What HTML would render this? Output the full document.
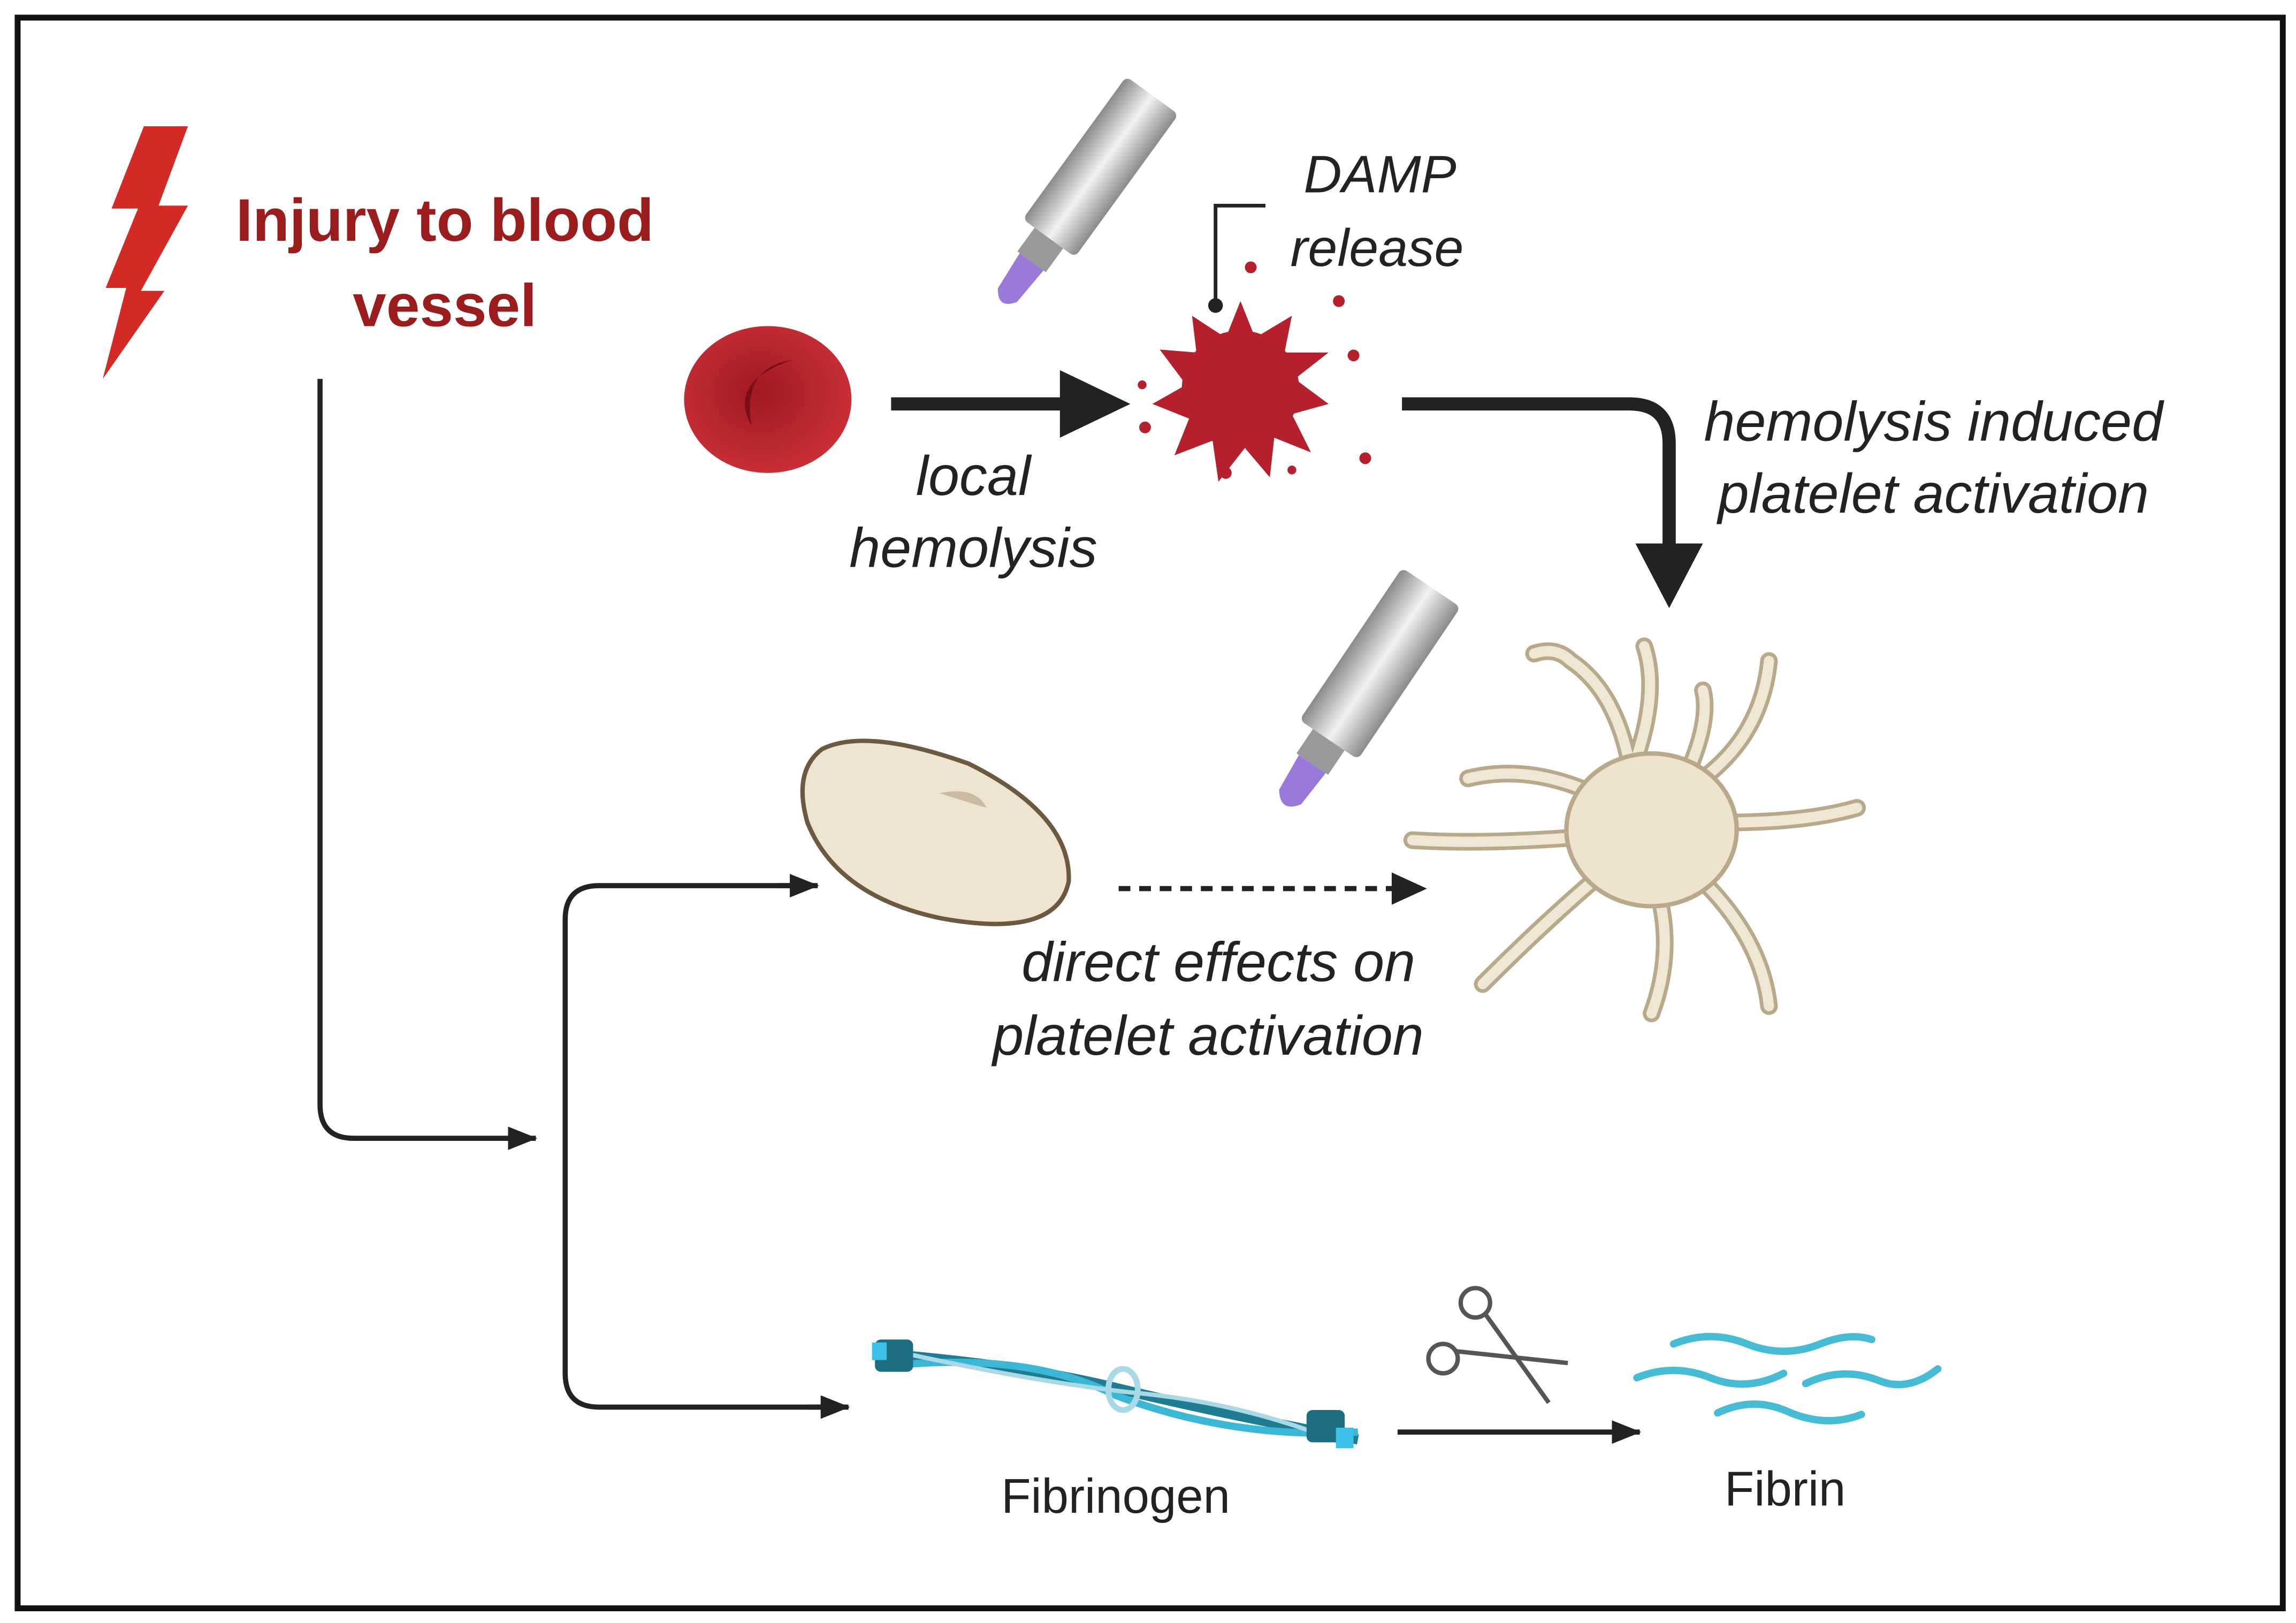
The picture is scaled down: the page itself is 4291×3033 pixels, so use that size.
<!DOCTYPE html>
<html><head><meta charset="utf-8"><style>
html,body{margin:0;padding:0;background:#fff;}
svg{display:block;}
text{font-family:"Liberation Sans",sans-serif;}
</style></head><body>
<svg width="4291" height="3033" viewBox="0 0 1564 1105" preserveAspectRatio="none" xmlns="http://www.w3.org/2000/svg">
<defs>
<marker id="ah" markerWidth="20" markerHeight="16" refX="19" refY="8" orient="auto" markerUnits="userSpaceOnUse"><path d="M0,0 L20,8 L0,16 Z" fill="#222"/></marker>
<linearGradient id="pen" x1="0" y1="0" x2="1" y2="0"><stop offset="0" stop-color="#8a8a8a"/><stop offset="0.5" stop-color="#f2f2f2"/><stop offset="1" stop-color="#8a8a8a"/></linearGradient>
<radialGradient id="rbc" cx="0.45" cy="0.45" r="0.6"><stop offset="0" stop-color="#a01822"/><stop offset="1" stop-color="#cc3036"/></radialGradient>
</defs>
<rect x="12" y="12" width="1543" height="1083" fill="#fff" stroke="#111" stroke-width="4"/>
<!-- lightning -->
<path d="M98,86 L128,86 L108,140 L128,140 L96,198 L112,198 L70,258 L86,196 L72,196 L94,142 L76,142 Z" fill="#d42a25"/>
<text x="303" y="164" font-size="41" font-weight="bold" fill="#9b1c1c" text-anchor="middle">Injury to blood</text>
<text x="303" y="222" font-size="41" font-weight="bold" fill="#9b1c1c" text-anchor="middle">vessel</text>
<!-- left connectors -->
<path d="M218,258 L218,752 Q218,775 241,775 L365,775" fill="none" stroke="#222" stroke-width="3.5" marker-end="url(#ah)"/>
<path d="M555,603 L408,603 Q385,603 385,626 L385,935 Q385,958 408,958 L576,958" fill="none" stroke="#222" stroke-width="3.5"/>
<path d="M530,603 L557,603" stroke="#222" stroke-width="3.5" marker-end="url(#ah)"/>
<path d="M550,958 L578,958" stroke="#222" stroke-width="3.5" marker-end="url(#ah)"/>
<!-- RBC -->
<ellipse cx="523" cy="272" rx="57" ry="50" fill="url(#rbc)"/>
<path d="M540,245 Q505,250 512,290 Q495,260 540,245 Z" fill="#7a0f18"/>
<!-- thick arrow 1 -->
<path d="M607,275 L725,275" stroke="#222" stroke-width="9"/>
<polygon points="722,252 770,275 722,298" fill="#222"/>
<text x="663" y="337" font-size="38" font-style="italic" fill="#222" text-anchor="middle">local</text>
<text x="663" y="386" font-size="38" font-style="italic" fill="#222" text-anchor="middle">hemolysis</text>
<!-- pen 1 -->
<g transform="translate(785,65) rotate(36)">
<rect x="-22" y="0" width="44" height="120" rx="4" fill="url(#pen)"/>
<rect x="-12" y="120" width="24" height="20" fill="#999"/>
<path d="M-10,140 L10,140 L8,168 Q0,180 -8,168 Z" fill="#9a7ad8"/>
</g>
<!-- spiky cell -->
<g fill="#b5202c">
<circle cx="845" cy="265" r="40"/>
<polygon points="845,205 855,230 880,215 875,240 905,240 882,258 905,275 880,282 893,308 868,298 865,325 848,305 830,328 826,300 800,310 810,285 785,275 808,262 790,238 815,240 812,215 835,230"/>
<circle cx="852" cy="182" r="4"/><circle cx="912" cy="205" r="4"/><circle cx="922" cy="242" r="4"/><circle cx="930" cy="312" r="4"/><circle cx="780" cy="291" r="4"/><circle cx="778" cy="262" r="3"/><circle cx="835" cy="322" r="4"/><circle cx="880" cy="320" r="3"/>
</g>
<path d="M828,208 L828,140 L862,140" fill="none" stroke="#222" stroke-width="2.5"/>
<circle cx="828" cy="208" r="5" fill="#222"/>
<text x="940" y="131" font-size="36" font-style="italic" fill="#222" text-anchor="middle">DAMP</text>
<text x="938" y="181" font-size="36" font-style="italic" fill="#222" text-anchor="middle">release</text>
<!-- thick arrow 2 -->
<path d="M955,275 L1110,275 Q1137,275 1137,302 L1137,372" fill="none" stroke="#222" stroke-width="9"/>
<polygon points="1114,370 1160,370 1137,414" fill="#222"/>
<text x="1317" y="300" font-size="38" font-style="italic" fill="#222" text-anchor="middle">hemolysis induced</text>
<text x="1317" y="349" font-size="38" font-style="italic" fill="#222" text-anchor="middle">platelet activation</text>
<!-- pen 2 -->
<g transform="translate(975,400) rotate(34)">
<rect x="-24" y="0" width="48" height="125" rx="4" fill="url(#pen)"/>
<rect x="-13" y="125" width="26" height="20" fill="#999"/>
<path d="M-11,145 L11,145 L9,172 Q0,185 -9,172 Z" fill="#9a7ad8"/>
</g>
<!-- platelet -->
<g stroke="#b8a98a" stroke-width="12" stroke-linecap="round" fill="none">
<path d="M1110,520 Q1100,470 1070,450 Q1060,440 1045,445"/>
<path d="M1115,515 Q1130,470 1120,440"/>
<path d="M1150,525 Q1165,490 1160,470"/>
<path d="M1160,530 Q1200,500 1205,450"/>
<path d="M1175,560 Q1230,560 1265,550"/>
<path d="M1160,600 Q1200,640 1205,685"/>
<path d="M1130,610 Q1140,650 1125,690"/>
<path d="M1085,600 Q1050,630 1010,670"/>
<path d="M1075,570 Q1010,575 962,572"/>
<path d="M1085,540 Q1040,520 1000,530"/>
</g>
<g stroke="#efe6d4" stroke-width="7" stroke-linecap="round" fill="none">
<path d="M1110,520 Q1100,470 1070,450 Q1060,440 1045,445"/>
<path d="M1115,515 Q1130,470 1120,440"/>
<path d="M1150,525 Q1165,490 1160,470"/>
<path d="M1160,530 Q1200,500 1205,450"/>
<path d="M1175,560 Q1230,560 1265,550"/>
<path d="M1160,600 Q1200,640 1205,685"/>
<path d="M1130,610 Q1140,650 1125,690"/>
<path d="M1085,600 Q1050,630 1010,670"/>
<path d="M1075,570 Q1010,575 962,572"/>
<path d="M1085,540 Q1040,520 1000,530"/>
</g>
<ellipse cx="1125" cy="565" rx="58" ry="52" fill="#ede3ce" stroke="#b8a98a" stroke-width="3"/>
<!-- oval cell -->
<path d="M560,510 Q590,495 660,520 Q730,555 728,600 Q720,640 640,625 Q570,610 550,560 Q540,525 560,510 Z" fill="#eee4d2" stroke="#6b5a40" stroke-width="3"/>
<path d="M640,540 Q665,535 672,550 Q655,545 640,540 Z" fill="#c9bca2"/>
<!-- dotted arrow -->
<path d="M762,605 L950,605" stroke="#222" stroke-width="3.5" stroke-dasharray="8,6"/>
<polygon points="948,594 972,605 948,616" fill="#222"/>
<text x="830" y="668" font-size="38" font-style="italic" fill="#222" text-anchor="middle">direct effects on</text>
<text x="823" y="718" font-size="38" font-style="italic" fill="#222" text-anchor="middle">platelet activation</text>
<!-- fibrinogen -->
<path d="M605,922 Q700,930 760,945 Q830,962 925,980" stroke="#1e7d92" stroke-width="7" fill="none"/>
<path d="M605,930 Q700,920 760,950 Q840,980 925,975" stroke="#3bb7d6" stroke-width="5" fill="none"/>
<path d="M610,920 Q700,940 770,948 Q850,955 920,985" stroke="#a9d9e6" stroke-width="3" fill="none"/>
<rect x="596" y="912" width="26" height="22" rx="4" fill="#1c6e80"/><rect x="594" y="914" width="10" height="12" fill="#3bc0e8"/>
<rect x="890" y="960" width="26" height="22" rx="4" fill="#1c6e80"/><rect x="910" y="972" width="12" height="14" fill="#3bc0e8"/>
<ellipse cx="765" cy="946" rx="10" ry="14" fill="none" stroke="#a9d9e6" stroke-width="4"/>
<text x="760" y="1030" font-size="33" fill="#222" text-anchor="middle">Fibrinogen</text>
<path d="M952,975 L1117,975" stroke="#222" stroke-width="3.5" marker-end="url(#ah)"/>
<!-- scissors -->
<g stroke="#555" stroke-width="3" fill="none">
<circle cx="1005" cy="887" r="10"/><circle cx="983" cy="925" r="10"/>
<path d="M1012,895 L1055,955"/><path d="M992,920 L1068,928"/>
</g>
<!-- fibrin -->
<g stroke="#46bcd4" stroke-width="5" fill="none" stroke-linecap="round">
<path d="M1140,915 Q1165,905 1190,915 Q1215,925 1240,915 Q1260,907 1275,912"/>
<path d="M1115,938 Q1140,928 1165,938 Q1190,948 1215,935"/>
<path d="M1230,942 Q1255,930 1280,940 Q1300,948 1320,932"/>
<path d="M1170,962 Q1195,950 1220,962 Q1245,972 1268,963"/>
</g>
<text x="1216" y="1025" font-size="33" fill="#222" text-anchor="middle">Fibrin</text>
</svg>
</body></html>
